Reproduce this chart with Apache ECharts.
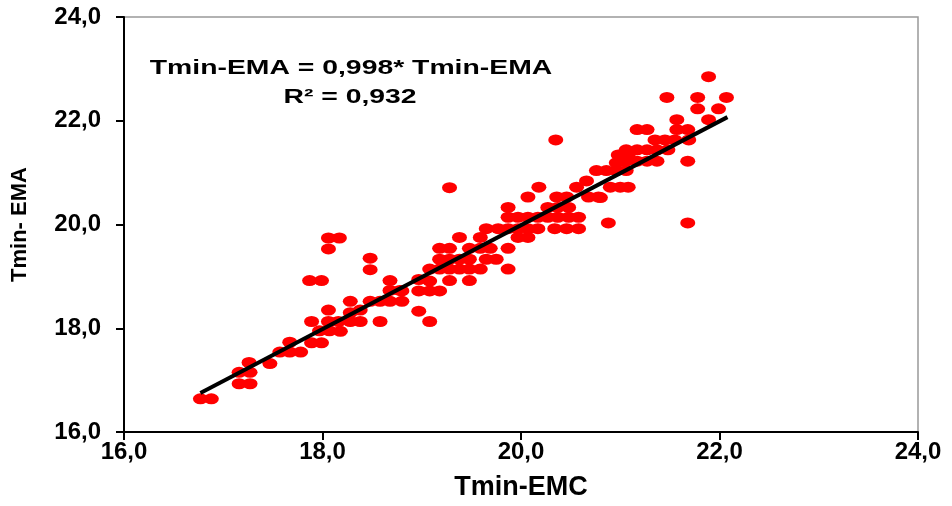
<!DOCTYPE html>
<html>
<head>
<meta charset="utf-8">
<script src="https://cdn.jsdelivr.net/npm/echarts@6/dist/echarts.min.js"></script>
<style>html,body{margin:0;padding:0;background:#fff}#c{width:952px;height:506px}</style>
</head>
<body>
<div id="c"></div>
<script>
// Scatter values (Tmin-EMC, Tmin-EMA)
var obsX = [16.77,16.88,17.16,17.27,17.16,17.27,17.26,17.47,17.57,17.67,17.78,17.67,17.89,17.99,17.97,18.07,18.18,17.89,18.06,18.16,18.06,18.28,18.28,18.28,18.38,18.38,18.48,18.58,18.68,18.80,18.58,18.68,18.68,18.78,17.87,17.99,18.06,18.17,18.06,18.48,18.48,
  19.28,18.97,19.08,18.80,18.97,19.08,19.18,18.97,19.08,19.28,19.48,19.08,19.18,19.28,19.38,19.48,19.59,19.87,19.18,19.28,19.38,19.48,19.65,19.75,19.18,19.28,19.48,19.59,19.69,19.87,19.38,19.59,19.97,20.07,19.65,19.77,19.87,19.97,20.07,20.17,19.87,19.97,20.07,20.17,20.27,20.37,20.48,20.58,19.87,20.34,20.46,20.58,20.27,20.37,20.48,20.07,20.18,20.36,20.46,20.56,20.66,20.68,20.78,20.76,20.86,20.88,20.90,21.00,21.08,20.98,21.08,21.00,
  21.89,21.47,21.78,22.07,21.78,21.99,21.89,21.57,21.57,21.68,21.17,21.27,21.35,21.45,21.55,21.69,21.06,21.17,21.27,21.37,21.48,20.96,21.06,21.17,21.27,21.37,21.68,20.96,21.06,20.80,21.68,20.35];
var obsY = [16.64,16.64,16.93,16.93,17.15,17.15,17.34,17.32,17.54,17.54,17.54,17.73,17.72,17.72,17.95,17.95,17.94,18.13,18.13,18.13,18.35,18.52,18.30,18.13,18.13,18.35,18.52,18.52,18.52,18.52,18.13,18.92,18.73,18.73,18.92,18.92,19.74,19.74,19.53,19.35,19.13,
  20.71,18.33,18.13,18.72,18.72,18.72,18.72,18.94,18.91,18.92,18.92,19.14,19.14,19.14,19.14,19.14,19.14,19.14,19.33,19.33,19.33,19.33,19.33,19.33,19.54,19.54,19.54,19.54,19.54,19.54,19.75,19.75,19.75,19.75,19.92,19.92,19.92,19.92,19.92,19.92,20.14,20.14,20.14,20.14,20.14,20.14,20.14,20.14,20.33,19.92,19.92,19.92,20.33,20.33,20.33,20.53,20.72,20.53,20.53,20.72,20.84,20.53,20.53,21.04,21.04,20.03,20.72,20.72,20.72,21.34,21.34,21.22,
  22.85,22.45,22.45,22.45,22.23,22.23,22.02,22.02,21.83,21.83,21.83,21.83,21.63,21.63,21.63,21.63,21.44,21.44,21.44,21.44,21.44,21.19,21.22,21.22,21.22,21.22,21.22,21.04,21.04,20.52,20.03,21.63];
// Regression line end points
var trendX = [16.77, 22.08];
var trendY = [16.75, 22.07];
// Axis ticks
var axisMin = 16, axisMax = 24, axisStep = 2;
var eqLine1 = 'Tmin-EMA = 0,998* Tmin-EMA';
var eqLine2 = 'R\u00B2 = 0,932';

var pts = obsX.map(function(x,i){return [x, obsY[i]];});
var trend = trendX.map(function(x,i){return [x, trendY[i]];});
var fmt = function(v){return v.toFixed(1).replace('.', ',');};
var FF = '"Liberation Sans", Arial, sans-serif';

var chart = echarts.init(document.getElementById('c'), null, {renderer:'canvas'});
chart.setOption({
  animation:false,
  backgroundColor:'#fff',
  grid:{left:124, right:34, top:17, bottom:68, show:true, borderColor:'#999', borderWidth:1.5, backgroundColor:'transparent'},
  xAxis:{type:'value', min:axisMin, max:axisMax, interval:axisStep,
    name:'Tmin-EMC', nameLocation:'middle', nameGap:42,
    nameTextStyle:{fontFamily:FF, fontWeight:'bold', fontSize:27, color:'#000'},
    axisLine:{show:true, onZero:false, lineStyle:{color:'#000', width:2}},
    axisTick:{show:true, inside:false, length:8, lineStyle:{color:'#000', width:2}},
    axisLabel:{formatter:fmt, margin:8, fontFamily:FF, fontWeight:'bold', fontSize:24, color:'#000'},
    splitLine:{show:false}},
  yAxis:{type:'value', min:axisMin, max:axisMax, interval:axisStep,
    name:'Tmin- EMA', nameLocation:'middle', nameGap:93, nameRotate:90,
    nameTextStyle:{fontFamily:FF, fontWeight:'bold', fontSize:22, color:'#000'},
    axisLine:{show:true, onZero:false, lineStyle:{color:'#000', width:2}},
    axisTick:{show:true, inside:false, length:8, lineStyle:{color:'#000', width:2}},
    axisLabel:{formatter:fmt, margin:23, fontFamily:FF, fontWeight:'bold', fontSize:24, color:'#000'},
    splitLine:{show:false}},
  series:[
    {type:'scatter', data:pts, symbol:'circle', symbolSize:[15,11],
      itemStyle:{color:'#ff0000', opacity:1}, z:2},
    {type:'line', data:trend, showSymbol:false, symbol:'none',
      lineStyle:{color:'#000', width:4}, z:3}
  ],
  graphic:[
    {id:'eq1', type:'text', x:351, y:68, scaleX:1.35, scaleY:1,
      style:{text:eqLine1, x:0, y:0, align:'center', verticalAlign:'middle', fill:'#000',
        font:'bold 21px "Liberation Sans", Arial, sans-serif'}, z:10},
    {id:'eq2', type:'text', x:350, y:97, scaleX:1.35, scaleY:1,
      style:{text:eqLine2, x:0, y:0, align:'center', verticalAlign:'middle', fill:'#000',
        font:'bold 21px "Liberation Sans", Arial, sans-serif'}, z:10}
  ]
});
</script>
</body>
</html>
